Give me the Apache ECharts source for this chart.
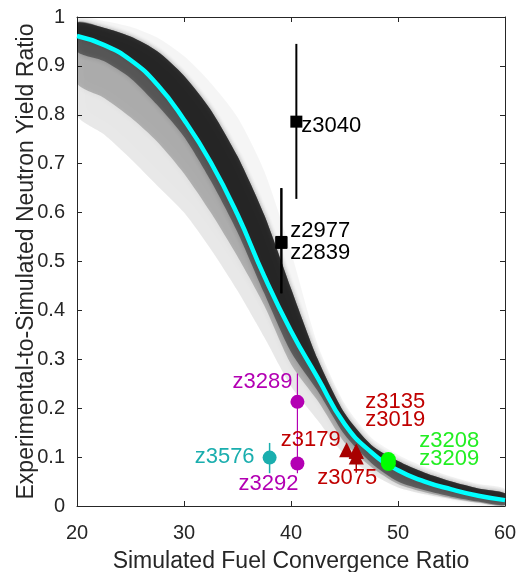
<!DOCTYPE html>
<html>
<head>
<meta charset="utf-8">
<script src="https://cdn.jsdelivr.net/npm/echarts@6/dist/echarts.min.js"></script>
<style>
  html, body { margin: 0; padding: 0; background: #ffffff; }
  #chart { width: 516px; height: 572px; }
</style>
</head>
<body>
<div id="chart"></div>
<script>
// Axis ticks
const xTicks = [20, 30, 40, 50, 60];
const yTicks = [0, 0.1, 0.2, 0.3, 0.4, 0.5, 0.6, 0.7, 0.8, 0.9, 1];
const yTickLabels = ['0', '0.1', '0.2', '0.3', '0.4', '0.5', '0.6', '0.7', '0.8', '0.9', '1'];

// Convergence-ratio samples where the model curves are tabulated
const sampleX = [20, 22.5, 25, 27.5, 30, 32.5, 35, 37.5, 40, 42.5, 45, 47.5, 50, 52.5, 55, 57.5, 60];

// Best-fit degradation curve
const fitMean = [0.961, 0.943, 0.912, 0.862, 0.790, 0.703, 0.596, 0.470, 0.358, 0.262, 0.168, 0.110, 0.073, 0.050, 0.034, 0.021, 0.012];

// Envelope of the sampled posterior curves (outer light spread and dense core)
const spreadUpper = [0.997, 0.992, 0.980, 0.958, 0.920, 0.865, 0.795, 0.685, 0.520, 0.330, 0.210, 0.140, 0.105, 0.080, 0.060, 0.045, 0.035];
const coreUpper   = [0.988, 0.978, 0.960, 0.930, 0.880, 0.810, 0.715, 0.595, 0.445, 0.300, 0.190, 0.125, 0.092, 0.068, 0.050, 0.036, 0.026];
const coreLower   = [0.930, 0.910, 0.875, 0.820, 0.755, 0.665, 0.560, 0.435, 0.315, 0.235, 0.146, 0.088, 0.050, 0.032, 0.019, 0.009, 0.002];
const midLower    = [0.865, 0.835, 0.795, 0.745, 0.680, 0.600, 0.510, 0.410, 0.290, 0.215, 0.130, 0.080, 0.045, 0.028, 0.016, 0.007, 0.001];
const spreadLower = [0.800, 0.760, 0.710, 0.655, 0.600, 0.525, 0.440, 0.345, 0.245, 0.175, 0.105, 0.066, 0.038, 0.024, 0.014, 0.006, 0.001];

// Shots: name, convergence ratio, yield ratio, error-bar low/high
const squareNames = ['z3040', 'z2977', 'z2839'];
const squareX     = [40.5, 39.1, 39.1];
const squareY     = [0.786, 0.540, 0.538];
const squareLo    = [0.628, 0.435, 0.435];
const squareHi    = [0.945, 0.650, 0.650];

const magentaNames = ['z3289', 'z3292'];
const magentaX     = [40.6, 40.6];
const magentaY     = [0.213, 0.087];
const magentaLo    = [0.150, 0.067];
const magentaHi    = [0.271, 0.150];

const tealNames = ['z3576'];
const tealX     = [38.0];
const tealY     = [0.099];
const tealLo    = [0.067];
const tealHi    = [0.129];

const redNames = ['z3179', 'z3135', 'z3019', 'z3075'];
const redX     = [45.2, 46.1, 46.1, 46.1];
const redY     = [0.115, 0.112, 0.112, 0.100];
const redLo    = [0.115, 0.112, 0.112, 0.068];
const redHi    = [0.115, 0.112, 0.112, 0.125];

const greenNames = ['z3208', 'z3209'];
const greenX     = [49.1, 49.1];
const greenY     = [0.095, 0.087];

// Label placement (pixel offsets from the marker centre)
const labelPlacement = {
  z3040: { align: 'left',   dx: 5,    dy: 4 },
  z2977: { align: 'left',   dx: 9,    dy: -11 },
  z2839: { align: 'left',   dx: 9,    dy: 10 },
  z3289: { align: 'right',  dx: -5,   dy: -20 },
  z3292: { align: 'right',  dx: 1,    dy: 20 },
  z3576: { align: 'right',  dx: -15,  dy: -1 },
  z3179: { align: 'right',  dx: -6,   dy: -10 },
  z3135: { align: 'left',   dx: 9,    dy: -49 },
  z3019: { align: 'left',   dx: 9,    dy: -31 },
  z3075: { align: 'center', dx: -9,   dy: 21 },
  z3208: { align: 'left',   dx: 31,   dy: -19 },
  z3209: { align: 'left',   dx: 31,   dy: -5 }
};

const FONT = '"Liberation Sans", Arial, Helvetica, sans-serif';
const AXIS_COLOR = '#262626';

// Filled region between two tabulated curves, with a soft edge
function bandSeries(lower, upper, alpha, blur, z) {
  const color = 'rgba(0,0,0,' + alpha + ')';
  return {
    type: 'custom',
    clip: true,
    silent: true,
    z: z,
    data: sampleX.map((x, i) => [x, lower[i], upper[i]]),
    renderItem: function (params, api) {
      if (params.dataIndex !== 0) return null;
      const pts = [];
      for (let i = 0; i < sampleX.length; i++) pts.push(api.coord([sampleX[i], upper[i]]));
      for (let i = sampleX.length - 1; i >= 0; i--) pts.push(api.coord([sampleX[i], lower[i]]));
      return {
        type: 'polygon',
        shape: { points: pts, smooth: 0.25 },
        style: {
          fill: color, stroke: null,
          shadowBlur: blur, shadowColor: color, shadowOffsetX: 0, shadowOffsetY: 0
        }
      };
    }
  };
}

function errorBarSeries(xs, lo, hi, color, width) {
  return {
    type: 'custom',
    silent: true,
    z: 5,
    data: xs.map((x, i) => [x, lo[i], hi[i]]),
    renderItem: function (params, api) {
      const a = api.coord([api.value(0), api.value(1)]);
      const b = api.coord([api.value(0), api.value(2)]);
      return {
        type: 'line',
        shape: { x1: a[0], y1: a[1], x2: b[0], y2: b[1] },
        style: { stroke: color, lineWidth: width }
      };
    }
  };
}

function markerSeries(names, xs, ys, symbol, size, color, textColor) {
  return {
    type: 'scatter',
    z: 6,
    symbol: symbol,
    symbolSize: size,
    itemStyle: { color: color, opacity: 1 },
    data: names.map((n, i) => {
      const p = labelPlacement[n];
      return {
        name: n,
        value: [xs[i], ys[i]],
        label: {
          show: true,
          position: 'inside',
          formatter: n,
          align: p.align,
          verticalAlign: 'middle',
          offset: [p.dx, p.dy],
          color: textColor,
          fontFamily: FONT,
          fontSize: 22
        }
      };
    })
  };
}

const chart = echarts.init(document.getElementById('chart'), null, { renderer: 'canvas' });

const baseX = {
  type: 'value', min: 20, max: 60, interval: 10,
  axisLine: { show: true, onZero: false, lineStyle: { color: AXIS_COLOR, width: 1 } },
  axisTick: { show: true, inside: true, length: 5, lineStyle: { color: AXIS_COLOR } },
  splitLine: { show: false }
};
const baseY = {
  type: 'value', min: 0, max: 1, interval: 0.1,
  axisLine: { show: true, onZero: false, lineStyle: { color: AXIS_COLOR, width: 1 } },
  axisTick: { show: true, inside: true, length: 5, lineStyle: { color: AXIS_COLOR } },
  splitLine: { show: false }
};

chart.setOption({
  backgroundColor: '#ffffff',
  animation: false,
  grid: { left: 77, right: 11, top: 17, bottom: 66, containLabel: false, outerBoundsMode: 'none' },
  xAxis: [
    Object.assign({}, baseX, {
      position: 'bottom',
      name: 'Simulated Fuel Convergence Ratio',
      nameLocation: 'middle',
      nameMoveOverlap: false,
      nameGap: 44,
      nameTextStyle: { fontFamily: FONT, fontSize: 23, color: AXIS_COLOR },
      axisLabel: {
        show: true, margin: 17, fontFamily: FONT, fontSize: 20, color: AXIS_COLOR,
        formatter: v => (xTicks.indexOf(v) >= 0 ? String(v) : '')
      }
    }),
    Object.assign({}, baseX, { position: 'top', axisLabel: { show: false } })
  ],
  yAxis: [
    Object.assign({}, baseY, {
      position: 'left',
      name: 'Experimental-to-Simulated Neutron Yield Ratio',
      nameLocation: 'middle',
      nameMoveOverlap: false,
      nameGap: 39,
      nameTextStyle: { fontFamily: FONT, fontSize: 23, color: AXIS_COLOR },
      axisLabel: {
        show: true, margin: 12, fontFamily: FONT, fontSize: 20, color: AXIS_COLOR,
        formatter: v => {
          const i = yTicks.findIndex(t => Math.abs(t - v) < 1e-9);
          return i >= 0 ? yTickLabels[i] : '';
        }
      }
    }),
    Object.assign({}, baseY, { position: 'right', axisLabel: { show: false } })
  ],
  series: [
    bandSeries(spreadLower, spreadUpper, 0.04, 8, 1),
    bandSeries(spreadLower, coreUpper, 0.05, 8, 1),
    bandSeries(midLower, coreUpper, 0.22, 6, 2),
    bandSeries(coreLower, coreUpper, 0.40, 5, 3),
    bandSeries(fitMean, coreUpper, 0.45, 5, 3),
    {
      type: 'line',
      z: 4,
      smooth: true,
      symbol: 'none',
      silent: true,
      lineStyle: { color: '#00FFFF', width: 4.5 },
      data: sampleX.map((x, i) => [x, fitMean[i]])
    },
    errorBarSeries(squareX, squareLo, squareHi, '#000000', 2),
    errorBarSeries(magentaX, magentaLo, magentaHi, '#B300B3', 1.2),
    errorBarSeries(tealX, tealLo, tealHi, '#1AAEAE', 1.5),
    errorBarSeries(redX, redLo, redHi, '#A80000', 1.5),
    markerSeries(squareNames, squareX, squareY, 'rect', 12, '#000000', '#000000'),
    markerSeries(magentaNames, magentaX, magentaY, 'circle', 14, '#B300B3', '#B300B3'),
    markerSeries(tealNames, tealX, tealY, 'circle', 14, '#1AAEAE', '#1AAEAE'),
    markerSeries(redNames, redX, redY, 'triangle', 15, '#A80000', '#C00000'),
    markerSeries(greenNames, greenX, greenY, 'circle', 15, '#00FF00', '#22EE22')
  ]
});
</script>
</body>
</html>
